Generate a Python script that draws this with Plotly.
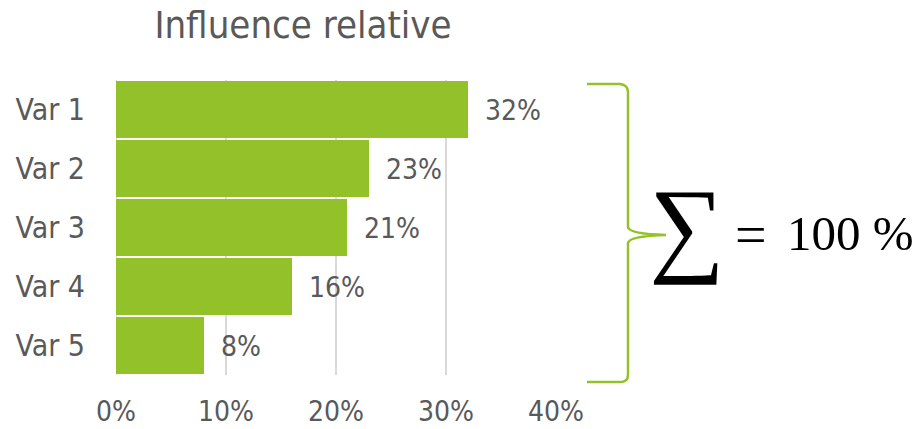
import plotly.graph_objects as go

categories = ["Var 1", "Var 2", "Var 3", "Var 4", "Var 5"]
values = [32, 23, 21, 16, 8]
value_labels = ["32%", "23%", "21%", "16%", "8%"]
tick_vals = [0, 10, 20, 30, 40]
tick_text = ["0%", "10%", "20%", "30%", "40%"]

GREEN = "#92C12A"
GREY = "#595959"
FONT = "DejaVu Sans Condensed, DejaVu Sans"

W, H = 919, 429
L, R, T, B = 116, 363, 80, 54
PW, PH = W - L - R, H - T - B

def px(x):
    return (x - L) / PW

def py(y):
    return (H - B - y) / PH

fig = go.Figure()
fig.add_trace(go.Bar(
    y=categories, x=values, orientation="h",
    marker=dict(color=GREEN, line=dict(width=0)),
    hoverinfo="skip",
))

annotations = []
for c, v, t in zip(categories, values, value_labels):
    annotations.append(dict(x=v, y=c, xref="x", yref="y", text=t, showarrow=False,
                            xanchor="left", xshift=15, yshift=-1,
                            font=dict(family=FONT, size=28, color=GREY)))

# sum formula
annotations.append(dict(x=px(687), y=py(226), xref="paper", yref="paper", text="∑",
                        showarrow=False, xanchor="center", yanchor="middle",
                        font=dict(family="Liberation Serif", size=106, color="#000000")))
annotations.append(dict(x=px(751), y=py(235), xref="paper", yref="paper", text="=",
                        showarrow=False, xanchor="center", yanchor="middle",
                        font=dict(family="Liberation Serif", size=56, color="#000000")))
annotations.append(dict(x=px(785), y=py(233), xref="paper", yref="paper", text="100 %",
                        showarrow=False, xanchor="left", yanchor="middle",
                        font=dict(family="Liberation Serif", size=49, color="#000000")))

# brace path (decoration)
def P(x, y):
    return f"{px(x):.5f},{py(y):.5f}"

path = (f"M {P(587,84)} L {P(620,84)} Q {P(628,85)} {P(628,92)} "
        f"L {P(628,227)} Q {P(629,234)} {P(666,235)} "
        f"Q {P(629,236)} {P(628,243)} L {P(628,375)} "
        f"Q {P(628,382)} {P(620,382)} L {P(587,382)}")

fig.update_layout(
    width=W, height=H,
    margin=dict(l=L, r=R, t=T, b=B, autoexpand=False),
    paper_bgcolor="white", plot_bgcolor="white",
    showlegend=False,
    bargap=0.035,
    title=dict(text="Influence relative", x=303 / W, xanchor="center",
               y=1 - 25 / H, yanchor="middle", xref="container", yref="container",
               font=dict(family=FONT, size=38, color=GREY), automargin=False),
    xaxis=dict(range=[0, 40], tickvals=tick_vals, ticktext=tick_text,
               showgrid=True, gridcolor="#D9D9D9", gridwidth=2, automargin=False,
               zeroline=False, showline=False, ticks="", ticklabelstandoff=17,
               tickfont=dict(family=FONT, size=28, color=GREY), fixedrange=True),
    yaxis=dict(autorange="reversed", showgrid=False, zeroline=False, showline=False,
               ticks="", ticklabelstandoff=30, automargin=False,
               tickfont=dict(family=FONT, size=30, color=GREY), fixedrange=True),
    annotations=annotations,
    shapes=[dict(type="path", path=path, xref="paper", yref="paper",
                 line=dict(color=GREEN, width=2.5)),
            dict(type="line", x0=0, x1=0, y0=0, y1=1, xref="x", yref="paper",
                 line=dict(color="#D9D9D9", width=2), layer="below")],
)

fig.write_html("out.html", config={"displayModeBar": False},
               post_script="document.body.style.margin='0';")
